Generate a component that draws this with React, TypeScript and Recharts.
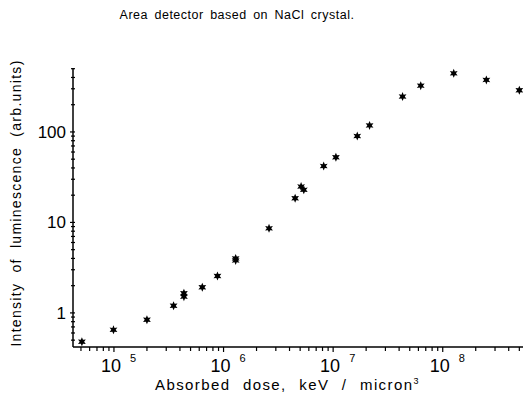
import { Scatter, ScatterChart, XAxis, YAxis } from "recharts";

// Absorbed dose (keV / micron^3) and luminescence intensity (arb. units)
const doseValues = [
  5.1e4, 9.9e4, 2.0e5, 3.5e5, 4.35e5, 4.35e5, 6.4e5, 8.8e5, 1.29e6, 1.29e6,
  2.6e6, 4.5e6, 5.1e6, 5.4e6, 8.2e6, 1.06e7, 1.66e7, 2.15e7, 4.3e7, 6.3e7,
  1.26e8, 2.5e8, 5.0e8,
];
const intensityValues = [
  0.48, 0.65, 0.84, 1.2, 1.65, 1.51, 1.92, 2.56, 4.0, 3.8,
  8.6, 18.5, 24.9, 22.9, 42, 52.5, 90, 118, 246, 325,
  445, 376, 289,
];

const xMajorTicks = [1e5, 1e6, 1e7, 1e8];
const xMajorLabels = ["5", "6", "7", "8"];
const yMajorTicks = [1, 10, 100];
const yMajorLabels = ["1", "10", "100"];

const xDomain: [number, number] = [4.23e4, 5.4e8];
const yDomain: [number, number] = [0.42, 509];

const data = doseValues.map((dose, i) => ({ dose, intensity: intensityValues[i] }));

// log-axis minor ticks (2..9 per decade) kept inside the domain
function withMinor(majors: number[], domain: [number, number]) {
  const out: number[] = [];
  const all = [majors[0] / 10, ...majors];
  all.forEach((m) => {
    for (let k = 1; k <= 9; k++) {
      const v = m * k;
      if (v >= domain[0] && v <= domain[1]) out.push(v);
    }
  });
  return out;
}

const xTicks = withMinor(xMajorTicks, xDomain);
const yTicks = withMinor(yMajorTicks, yDomain);

const FONT = "'Liberation Sans', Arial, sans-serif";

function XTick(props: any) {
  const { x, y, payload } = props;
  const idx = xMajorTicks.findIndex((t) => Math.abs(t - payload.value) / t < 1e-6);
  const major = idx >= 0;
  return (
    <g>
      <line x1={x} x2={x} y1={y} y2={y + (major ? 5 : 4)} stroke="#000" strokeWidth={1.2} />
      {major && (
        <g fontFamily={FONT} fill="#000">
          <text x={x - 3} y={y + 25} textAnchor="middle" fontSize={18}>
            10
          </text>
          <text x={x + 16} y={y + 15} textAnchor="start" fontSize={11}>
            {xMajorLabels[idx]}
          </text>
        </g>
      )}
    </g>
  );
}

function YTick(props: any) {
  const { x, y, payload } = props;
  const idx = yMajorTicks.findIndex((t) => Math.abs(t - payload.value) / t < 1e-6);
  const major = idx >= 0;
  return (
    <g>
      <line x1={x - (major ? 3 : 2)} x2={x + 2} y1={y} y2={y} stroke="#000" strokeWidth={1.2} />
      {major && (
        <text x={x - 7} y={y + 6} textAnchor="end" fontSize={17} fontFamily={FONT} fill="#000">
          {yMajorLabels[idx]}
        </text>
      )}
    </g>
  );
}

function Star(props: any) {
  const { cx, cy } = props;
  const pts: string[] = [];
  for (let i = 0; i < 12; i++) {
    const r = i % 2 === 0 ? 4.5 : 2.2;
    const a = (Math.PI / 6) * i - Math.PI / 2;
    pts.push(`${cx + r * Math.cos(a)},${cy + r * Math.sin(a)}`);
  }
  return <polygon points={pts.join(" ")} fill="#000" />;
}

export default function App() {
  return (
    <div style={{ position: "absolute", left: 0, top: 0, width: 525, height: 394, background: "#fff" }}>
      <div
        style={{
          position: "absolute",
          left: 0,
          width: 474,
          top: 8,
          textAlign: "center",
          fontFamily: FONT,
          fontSize: 12.5,
          letterSpacing: 0.5,
          wordSpacing: 2.5,
          color: "#000",
        }}
      >
        Area detector based on NaCl crystal.
      </div>
      <ScatterChart width={525} height={394} margin={{ top: 68, right: 2, bottom: 0, left: 0 }}>
        <XAxis
          type="number"
          dataKey="dose"
          scale="log"
          domain={xDomain}
          ticks={xTicks}
          interval={0}
          allowDataOverflow
          tick={XTick}
          tickLine={false}
          tickSize={0}
          tickMargin={0}
          height={47}
          axisLine={{ stroke: "#000", strokeWidth: 1.5 }}
        />
        <YAxis
          type="number"
          dataKey="intensity"
          scale="log"
          domain={yDomain}
          ticks={yTicks}
          interval={0}
          allowDataOverflow
          tick={YTick}
          tickLine={false}
          tickSize={0}
          tickMargin={0}
          width={73}
          axisLine={{ stroke: "#000", strokeWidth: 1.5 }}
        />
        <Scatter data={data} shape={Star} isAnimationActive={false} />
      </ScatterChart>
      <div
        style={{
          position: "absolute",
          left: 155,
          top: 376,
          fontFamily: FONT,
          fontSize: 15,
          lineHeight: "17px",
          letterSpacing: 1.4,
          wordSpacing: 7,
          color: "#000",
          whiteSpace: "nowrap",
        }}
      >
        Absorbed dose, keV / micron<sup style={{ fontSize: 9, lineHeight: 0 }}>3</sup>
      </div>
      <div
        style={{
          position: "absolute",
          left: 16,
          top: 203,
          transform: "translate(-50%, -50%) rotate(-90deg)",
          fontFamily: FONT,
          fontSize: 14,
          letterSpacing: 1.3,
          wordSpacing: 5,
          color: "#000",
          whiteSpace: "nowrap",
        }}
      >
        Intensity of luminescence (arb.units)
      </div>
    </div>
  );
}
